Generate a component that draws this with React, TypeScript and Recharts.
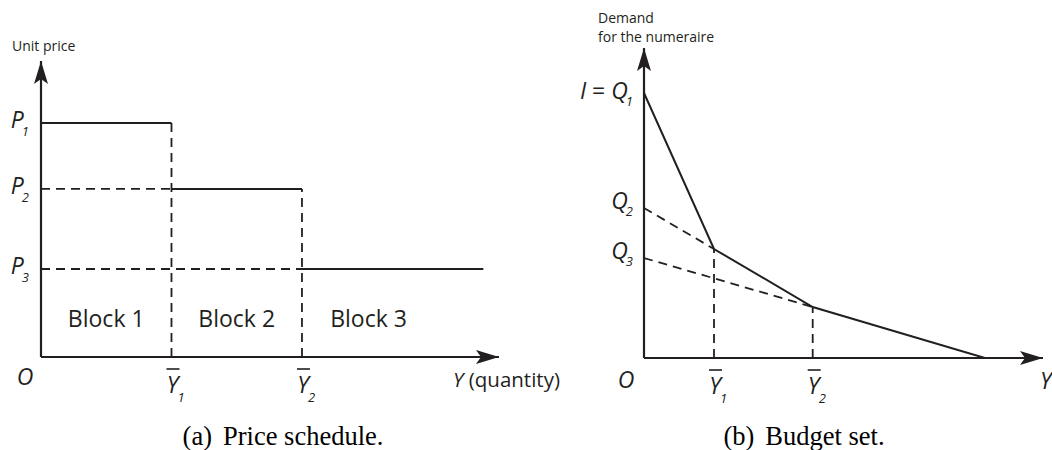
import React from 'react';
import { ComposedChart, Line, XAxis, YAxis, ReferenceDot, Customized } from 'recharts';

// ---------- data: (a) price schedule ----------
const quantityBounds = [0, 1, 2, 3.39]; // O, Y1, Y2, end of drawn schedule
const blockPrices = [2.66, 1.91, 1.0]; // P1, P2, P3
const priceTickSubs = ['1', '2', '3'];
const quantityTickSubs = ['', '1', '2']; // '' -> origin "O"
const blockNames = ['Block 1', 'Block 2', 'Block 3'];
const blockLabelX = [0.5, 1.5, 2.51];
const blockLabelY = 0.43;
const leftXMax = 3.51;
const leftYMax = 3.364;

// ---------- data: (b) budget set ----------
const budgetX = [0, 1, 2.41, 4.87]; // O, Y1, Y2, x-intercept
const budgetY = [2.65, 1.09, 0.51, 0]; // I=Q1, kink 1, kink 2, 0
const interceptQ = [2.65, 1.5, 1.0]; // Q1, Q2, Q3
const qTickLabels = [
  { prefix: 'I = ', main: 'Q', sub: '1' },
  { prefix: '', main: 'Q', sub: '2' },
  { prefix: '', main: 'Q', sub: '3' },
];
const rightXMax = 5.7;
const rightYMax = 3.1;

const INK = '#231f20';
const SANS = '"Open Sans", "Noto Sans", sans-serif';
const SERIF = '"Liberation Serif", "Times New Roman", serif';
const SYM = 23; // italic symbol size
const SUB = 13; // subscript size

type Pt = { x: number; y: number };
const seg = (x1: number, y1: number, x2: number, y2: number): Pt[] => [
  { x: x1, y: y1 },
  { x: x2, y: y2 },
];

const stepSegments = blockPrices.map((p, i) => seg(quantityBounds[i], p, quantityBounds[i + 1], p));
const dropLines = [
  seg(quantityBounds[1], 0, quantityBounds[1], blockPrices[0]),
  seg(quantityBounds[2], 0, quantityBounds[2], blockPrices[1]),
];
const priceGuides = [
  seg(0, blockPrices[1], quantityBounds[1], blockPrices[1]),
  seg(0, blockPrices[2], quantityBounds[2], blockPrices[2]),
];

const budgetLine: Pt[] = budgetX.map((x, i) => ({ x, y: budgetY[i] }));
const budgetGuides = [
  seg(0, interceptQ[1], budgetX[1], budgetY[1]),
  seg(0, interceptQ[2], budgetX[2], budgetY[2]),
];
const budgetDrops = [
  seg(budgetX[1], 0, budgetX[1], budgetY[1]),
  seg(budgetX[2], 0, budgetX[2], budgetY[2]),
];

// ---------- shapes ----------
const ArrowRight = (props: any) => {
  const { cx, cy } = props;
  return <path d={`M${cx},${cy} L${cx - 23},${cy - 7} L${cx - 18},${cy} L${cx - 23},${cy + 7} Z`} fill={INK} />;
};
const ArrowUp = (props: any) => {
  const { cx, cy } = props;
  return <path d={`M${cx},${cy} L${cx - 7},${cy + 23} L${cx},${cy + 18} L${cx + 7},${cy + 23} Z`} fill={INK} />;
};

const makeXTick = (ticks: number[], subs: string[], oDx: number, oDy: number) => (props: any) => {
  const { x, y, payload } = props;
  const idx = ticks.indexOf(payload.value);
  const sub = subs[idx] ?? '';
  if (sub === '') {
    return (
      <text x={x + oDx} y={y + oDy} textAnchor="middle" fontFamily={SANS} fontStyle="italic" fontSize={SYM} fill={INK}>
        O
      </text>
    );
  }
  return (
    <g>
      <line x1={x - 5} x2={x + 8} y1={y + 12} y2={y + 12} stroke={INK} strokeWidth={1.6} />
      <text x={x + 1} y={y + 36} textAnchor="middle" fontFamily={SANS} fontStyle="italic" fontSize={SYM} fill={INK}>
        Y
      </text>
      <text x={x + 6} y={y + 45} fontFamily={SANS} fontStyle="italic" fontSize={SUB} fill={INK}>
        {sub}
      </text>
    </g>
  );
};

const PriceTick = (props: any) => {
  const { x, y, payload } = props;
  const idx = blockPrices.indexOf(payload.value);
  return (
    <text x={x - 12} y={y + 5} textAnchor="end" fontFamily={SANS} fontStyle="italic" fontSize={SYM} fill={INK}>
      <tspan>P</tspan>
      <tspan fontSize={SUB} dx={-2} dy={8}>
        {priceTickSubs[idx]}
      </tspan>
    </text>
  );
};

const QTick = (props: any) => {
  const { x, y, payload } = props;
  const idx = interceptQ.indexOf(payload.value);
  const lab = qTickLabels[idx];
  if (!lab) return null;
  return (
    <text x={x - 11} y={y + (idx === 0 ? 6 : 1)} textAnchor="end" fontFamily={SANS} fontStyle="italic" fontSize={SYM} fill={INK}>
      {lab.prefix ? <tspan>I</tspan> : null}
      {lab.prefix ? <tspan fontStyle="normal"> = </tspan> : null}
      <tspan>{lab.main}</tspan>
      <tspan fontSize={SUB} dx={-2} dy={7}>
        {lab.sub}
      </tspan>
    </text>
  );
};

const BlockLabel = (name: string) => (props: any) => {
  const { cx, cy } = props;
  return (
    <text x={cx} y={cy + 8} textAnchor="middle" fontFamily={SANS} fontSize={23} fill={INK}>
      {name}
    </text>
  );
};

const Caption = ({ cx, tag, text }: { cx: number; tag: string; text: string }) => (
  <text x={cx} y={445} textAnchor="middle" fontFamily={SERIF} fontSize={26.5} fill="#000">
    <tspan>{tag}</tspan>
    <tspan dx={11}>{text}</tspan>
  </text>
);

const lineProps = {
  dataKey: 'y',
  stroke: INK,
  strokeWidth: 2,
  dot: false,
  activeDot: false,
  isAnimationActive: false,
  legendType: 'none' as const,
  type: 'linear' as const,
};
const dashProps = { ...lineProps, strokeWidth: 1.8, strokeDasharray: '9 6' };

const LeftChart = () => (
  <ComposedChart width={600} height={450} margin={{ top: 61, right: 101, bottom: 92, left: 40 }}>
    <XAxis
      type="number"
      dataKey="x"
      domain={[0, leftXMax]}
      allowDataOverflow
      ticks={quantityBounds.slice(0, 3)}
      interval={0}
      height={1}
      tickSize={0}
      tickMargin={0}
      tickLine={false}
      axisLine={{ stroke: INK, strokeWidth: 2.2 }}
      tick={makeXTick(quantityBounds.slice(0, 3), quantityTickSubs, -16, 28)}
      label={{
        content: (p: any) => {
          const vb = p.viewBox;
          return (
            <text x={vb.x + vb.width - 46} y={vb.y + 30} fontFamily={SANS} fontSize={20.5} fill={INK}>
              <tspan fontStyle="italic">Y</tspan>
              <tspan> (quantity)</tspan>
            </text>
          );
        },
      }}
    />
    <YAxis
      type="number"
      domain={[0, leftYMax]}
      allowDataOverflow
      ticks={blockPrices}
      interval={0}
      width={1}
      tickSize={0}
      tickMargin={0}
      tickLine={false}
      axisLine={{ stroke: INK, strokeWidth: 2.2 }}
      tick={PriceTick}
      label={{
        content: (p: any) => {
          const vb = p.viewBox;
          return (
            <text x={vb.x + vb.width - 29} y={vb.y - 10} fontFamily={SANS} fontSize={14} fill={INK}>
              Unit price
            </text>
          );
        },
      }}
    />
    {priceGuides.map((d, i) => (
      <Line key={`pg${i}`} data={d} {...dashProps} />
    ))}
    {dropLines.map((d, i) => (
      <Line key={`dl${i}`} data={d} {...dashProps} />
    ))}
    {stepSegments.map((d, i) => (
      <Line key={`st${i}`} data={d} {...lineProps} />
    ))}
    {blockNames.map((n, i) => (
      <ReferenceDot key={n} x={blockLabelX[i]} y={blockLabelY} r={0} shape={BlockLabel(n)} />
    ))}
    <ReferenceDot x={leftXMax} y={0} shape={ArrowRight} />
    <ReferenceDot x={0} y={leftYMax} shape={ArrowUp} />
    <Customized component={() => <Caption cx={283} tag="(a)" text="Price schedule." />} />
  </ComposedChart>
);

const RightChart = () => (
  <ComposedChart width={512} height={450} margin={{ top: 48, right: 9, bottom: 91, left: 103 }}>
    <XAxis
      type="number"
      dataKey="x"
      domain={[0, rightXMax]}
      allowDataOverflow
      ticks={budgetX.slice(0, 3)}
      interval={0}
      height={1}
      tickSize={0}
      tickMargin={0}
      tickLine={false}
      axisLine={{ stroke: INK, strokeWidth: 2.2 }}
      tick={makeXTick(budgetX.slice(0, 3), quantityTickSubs, -18, 30)}
      label={{
        content: (p: any) => {
          const vb = p.viewBox;
          return (
            <text x={vb.x + vb.width - 3} y={vb.y + 31} fontFamily={SANS} fontStyle="italic" fontSize={SYM} fill={INK}>
              Y
            </text>
          );
        },
      }}
    />
    <YAxis
      type="number"
      domain={[0, rightYMax]}
      allowDataOverflow
      ticks={interceptQ}
      interval={0}
      width={1}
      tickSize={0}
      tickMargin={0}
      tickLine={false}
      axisLine={{ stroke: INK, strokeWidth: 2.2 }}
      tick={QTick}
      label={{
        content: (p: any) => {
          const vb = p.viewBox;
          const lx = vb.x + vb.width - 46;
          return (
            <text x={lx} y={vb.y - 25} fontFamily={SANS} fontSize={14} fill={INK}>
              <tspan x={lx}>Demand</tspan>
              <tspan x={lx} dy={19}>
                for the numeraire
              </tspan>
            </text>
          );
        },
      }}
    />
    {budgetGuides.map((d, i) => (
      <Line key={`bg${i}`} data={d} {...dashProps} />
    ))}
    {budgetDrops.map((d, i) => (
      <Line key={`bd${i}`} data={d} {...dashProps} />
    ))}
    <Line data={budgetLine} {...lineProps} />
    <ReferenceDot x={rightXMax} y={0} shape={ArrowRight} />
    <ReferenceDot x={0} y={rightYMax} shape={ArrowUp} />
    <Customized component={() => <Caption cx={264} tag="(b)" text="Budget set." />} />
  </ComposedChart>
);

export default function App() {
  return (
    <div style={{ position: 'absolute', left: 0, top: 0, width: 1052, height: 450, background: '#fff', overflow: 'hidden' }}>
      <div style={{ position: 'absolute', left: 0, top: 0 }}>
        <LeftChart />
      </div>
      <div style={{ position: 'absolute', left: 540, top: 0 }}>
        <RightChart />
      </div>
    </div>
  );
}
